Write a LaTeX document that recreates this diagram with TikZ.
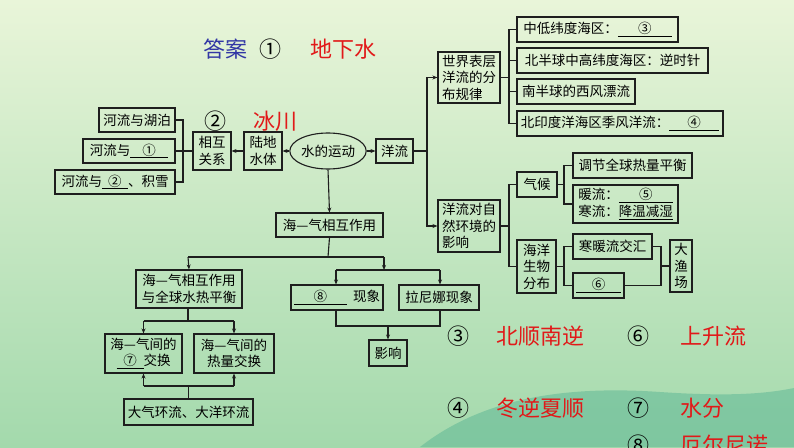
\documentclass[tikz,border=0pt]{standalone}
\usepackage{fontspec}
\setmainfont{Noto Sans CJK SC}
\usetikzlibrary{shapes.geometric,arrows.meta}
\newcommand{\blank}[2]{\underline{\makebox[#1][c]{#2}}}
\definecolor{bgtop}{RGB}{233,245,217}
\definecolor{bgbot}{RGB}{163,217,172}
\definecolor{wave}{RGB}{96,184,150}
\definecolor{ansred}{RGB}{225,25,25}
\definecolor{ansblue}{RGB}{50,55,165}
\definecolor{ink}{RGB}{30,30,30}
\tikzset{
  box/.style={draw=ink,line width=1.1pt,inner sep=1pt,align=center,font=\fontsize{13.5}{16.5}\selectfont},
  link/.style={draw=ink,line width=1.1pt},
  answer/.style={font=\fontsize{22}{24}\selectfont,text=ansred,anchor=west},
  num/.style={font=\fontsize{22}{24}\selectfont},
}
\begin{document}
\begin{tikzpicture}[x=1pt,y=-1pt,>={Stealth[length=5pt,width=4pt]}]
\useasboundingbox (0,0) rectangle (794,447);
% background
\shade[top color=bgtop,bottom color=bgbot] (0,0) rectangle (794,447);
\fill[wave,opacity=0.55] (420,447) .. controls (480,400) and (560,385) .. (660,392) .. controls (720,396) and (760,395) .. (794,388) -- (794,447) -- cycle;
% answers
\node[num,text=ansblue] (ans) at (225,49) {答案};
\node[num] (a1) at (270,49) {①};
\node[answer] (a1t) at (307,49) {地下水};
\node[num] (a2) at (215,121) {②};
\node[answer] (a2t) at (250,121) {冰川};
% left part
\node[box,minimum width=76,minimum height=24] (lake) at (137,120) {河流与湖泊};
\node[box,minimum width=92,minimum height=24] (riv1) at (129,151) {河流与\blank{38pt}{①}};
\node[box,minimum width=120,minimum height=24] (riv2) at (115,182) {河流与\blank{26pt}{②}、积雪};
\node[box,minimum width=38,minimum height=38] (rel) at (212,151) {相互\\关系};
\node[box,minimum width=38,minimum height=38] (land) at (263,151) {陆地\\水体};
\node[box,ellipse,minimum width=69,minimum height=36,inner sep=0pt] (move) at (328,151) {水的运动};
\node[box,minimum width=37,minimum height=24] (ocean) at (394.5,151) {洋流};
\coordinate (lk) at (183,120);
\coordinate (lm) at (183,151);
\coordinate (lb) at (183,182);
\draw[link] (lake.east) -- (lk) -- (lb) -- (riv2.east);
\draw[link] (riv1.east) -- (rel.west);
\draw[link,->] (land.west) -- (rel.east);
\draw[link,->] (move.west) -- (land.east);
\draw[link,->] (move.east) -- (ocean.west);
% ocean currents
\node[box,minimum width=62,minimum height=51,align=left] (dist) at (469,77.5) {世界表层\\洋流的分\\布规律};
\node[box,minimum width=161,minimum height=25] (d1) at (597.5,29.5) {中低纬度海区：\blank{54pt}{③}};
\node[box,minimum width=191,minimum height=25] (d2) at (612.5,60.5) {北半球中高纬度海区：逆时针};
\node[box,minimum width=118,minimum height=25] (d3) at (576,91.5) {南半球的西风漂流};
\node[box,minimum width=206,minimum height=25] (d4) at (620,123.5) {北印度洋海区季风洋流：\blank{50pt}{④}};
\node[box,minimum width=62,minimum height=52,align=left] (env) at (469,226) {洋流对自\\然环境的\\影响};
\node[box,minimum width=40,minimum height=25] (clim) at (537,184.5) {气候};
\node[box,minimum width=119,minimum height=25] (c1) at (632.5,165.5) {调节全球热量平衡};
\node[box,minimum width=105,minimum height=38,align=left] (c2) at (625.5,204) {暖流：\blank{54pt}{⑤}\\寒流：\blank{54pt}{降温减湿}};
\node[box,minimum width=39,minimum height=53] (bio) at (536.5,266.5) {海洋\\生物\\分布};
\node[box,minimum width=79,minimum height=25] (b1) at (612.5,246.5) {寒暖流交汇};
\node[box,minimum width=51,minimum height=25] (b2) at (598.5,285.5) {\blank{45pt}{⑥}};
\node[box,minimum width=22,minimum height=52] (fish) at (681,266) {大\\渔\\场};
\coordinate (ot) at (427,77.5);
\coordinate (om) at (427,151);
\coordinate (ob) at (427,226);
\draw[link] (ocean.east) -- (om);
\draw[link,->] (om) -- (ot) -- (dist.west);
\draw[link,->] (om) -- (ob) -- (env.west);
\coordinate (dt) at (509,29.5);
\coordinate (db) at (509,123.5);
\draw[link] (d1.west) -- (dt) -- (db) -- (d4.west);
\draw[link] (dist.east) -- (dist.east -| dt);
\draw[link] (d2.west) -- (d2.west -| dt);
\draw[link] (d3.west) -- (d3.west -| dt);
\coordinate (et) at (509,184.5);
\coordinate (eb) at (509,266.5);
\draw[link] (clim.west) -- (et) -- (eb) -- (bio.west);
\draw[link] (env.east) -- (env.east -| et);
\coordinate (ct) at (564,165.5);
\coordinate (cb) at (564,204);
\draw[link] (c1.west) -- (ct) -- (cb) -- (c2.west);
\draw[link] (clim.east) -- (clim.east -| ct);
\coordinate (bt) at (564,246.5);
\coordinate (bb) at (564,285.5);
\draw[link] (b1.west) -- (bt) -- (bb) -- (b2.west);
\draw[link] (bio.east) -- (bio.east -| bt);
\coordinate (ft) at (661,246.5);
\coordinate (fb) at (661,285.5);
\draw[link] (b1.east) -- (ft) -- (fb) -- (b2.east);
\draw[link] (fish.west) -- (fish.west -| ft);
% sea-air interaction
\node[box,minimum width=107,minimum height=24] (sea) at (329.5,225) {海—气相互作用};
\node[box,minimum width=106,minimum height=38] (bal) at (189,289) {海—气相互作用\\与全球水热平衡};
\node[box,minimum width=92,minimum height=25] (nino) at (337,297.5) {\blank{53pt}{⑧}\ \ 现象};
\node[box,minimum width=80,minimum height=25] (nina) at (439,297.5) {拉尼娜现象};
\node[box,minimum width=38,minimum height=26] (eff) at (388,353) {影响};
\node[box,minimum width=77,minimum height=39] (ex1) at (143.5,353.5) {海—气间的\\\blank{27pt}{⑦}交换};
\node[box,minimum width=80,minimum height=39] (ex2) at (234,353.5) {海—气间的\\热量交换};
\node[box,minimum width=129,minimum height=26] (circ) at (188.5,412) {大气环流、大洋环流};
\draw[link,->] (move.south) -- (sea.north);
\coordinate (sj) at (328,257);
\coordinate (sl) at (188,257);
\coordinate (sr) at (384,257);
\coordinate (nj) at (384,270);
\coordinate (nl) at (336,270);
\coordinate (nr) at (440,270);
\draw[link] (sea.south) -- (sj);
\draw[link] (sl) -- (sr);
\draw[link,->] (sl) -- (bal.north);
\draw[link,->] (sr) -- (nj);
\draw[link] (nl) -- (nr);
\draw[link,->] (nl) -- (nino.north -| nl);
\draw[link,->] (nr) -- (nina.north -| nr);
\coordinate (ej) at (388,326);
\draw[link] (nino.south -| nl) -- (nl |- ej) -- (nr |- ej) -- (nina.south -| nr);
\draw[link,->] (ej) -- (eff.north);
\coordinate (hj) at (188,321);
\coordinate (hl) at (143.5,321);
\coordinate (hr) at (234,321);
\draw[link] (bal.south -| hj) -- (hj);
\draw[link] (hl) -- (hr);
\draw[link,->] (hl) -- (ex1.north);
\draw[link,->] (hr) -- (ex2.north);
\coordinate (cj) at (188.5,386);
\coordinate (cl) at (143.5,386);
\coordinate (cr) at (234,386);
\draw[link] (circ.north) -- (cj);
\draw[link] (cl) -- (cr);
\draw[link,->] (cl) -- (ex1.south);
\draw[link,->] (cr) -- (ex2.south);
% answer list
\node[num] (n3) at (458,336) {③};
\node[answer] (t3) at (493,336) {北顺南逆};
\node[num] (n6) at (638,336) {⑥};
\node[answer] (t6) at (677,336) {上升流};
\node[num] (n4) at (458,408) {④};
\node[answer] (t4) at (493,408) {冬逆夏顺};
\node[num] (n7) at (638,408) {⑦};
\node[answer] (t7) at (677,408) {水分};
\node[num] (n8) at (638,445) {⑧};
\node[answer] (t8) at (677,445) {厄尔尼诺};
\end{tikzpicture}
\end{document}
